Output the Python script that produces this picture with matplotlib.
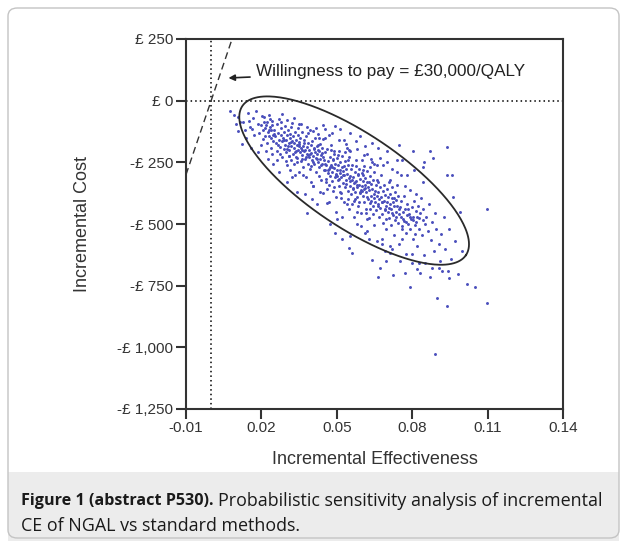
import numpy as np
import matplotlib
matplotlib.use("Agg")
import matplotlib.pyplot as plt
from matplotlib.patches import FancyBboxPatch, Rectangle

# incremental effectiveness / incremental cost (GBP)
efecto = [
    0.0075, 0.0108, 0.0115, 0.0106, 0.0128, 0.0151, 0.0179, 0.0155, 0.0164, 0.0092, 0.0138, 0.0121, 0.0168, 0.0145, 0.0099, 0.0172, 0.0133, 0.0160,
    0.0185, 0.0192, 0.0201, 0.0208, 0.0212, 0.0216, 0.0222, 0.0226, 0.0229, 0.0233, 0.0237, 0.0240, 0.0243, 0.0246, 0.0248, 0.0188, 0.0197, 0.0205,
    0.0219, 0.0231, 0.0239, 0.0211, 0.0244, 0.0227, 0.0199, 0.0236, 0.0249, 0.0214, 0.0241, 0.0224,
    0.0252, 0.0255, 0.0258, 0.0261, 0.0264, 0.0266, 0.0269, 0.0271, 0.0273, 0.0276, 0.0278, 0.0281, 0.0283, 0.0285, 0.0288, 0.0290, 0.0292, 0.0294,
    0.0297, 0.0299, 0.0301, 0.0303, 0.0305, 0.0307, 0.0309, 0.0311, 0.0313, 0.0315, 0.0317, 0.0319, 0.0321, 0.0323, 0.0325, 0.0327, 0.0329, 0.0331,
    0.0333, 0.0335, 0.0337, 0.0339, 0.0341, 0.0343, 0.0345, 0.0347, 0.0349, 0.0262, 0.0279, 0.0296, 0.0312, 0.0328, 0.0344, 0.0274, 0.0308, 0.0336, 0.0318,
    0.0351, 0.0353, 0.0355, 0.0357, 0.0359, 0.0361, 0.0363, 0.0365, 0.0367, 0.0369, 0.0371, 0.0373, 0.0375, 0.0377, 0.0379, 0.0381, 0.0383, 0.0385,
    0.0387, 0.0389, 0.0391, 0.0393, 0.0395, 0.0397, 0.0399, 0.0401, 0.0403, 0.0405, 0.0407, 0.0409, 0.0411, 0.0413, 0.0415, 0.0417, 0.0419, 0.0421,
    0.0423, 0.0425, 0.0427, 0.0429, 0.0431, 0.0433, 0.0435, 0.0437, 0.0439, 0.0441, 0.0443, 0.0445, 0.0447, 0.0449, 0.0358, 0.0372, 0.0386, 0.0402,
    0.0418, 0.0434, 0.0446, 0.0364, 0.0396, 0.0428, 0.0362, 0.0384, 0.0408, 0.0426, 0.0442,
    0.0451, 0.0453, 0.0455, 0.0457, 0.0459, 0.0461, 0.0463, 0.0465, 0.0467, 0.0469, 0.0471, 0.0473, 0.0475, 0.0477, 0.0479, 0.0481, 0.0483, 0.0485,
    0.0487, 0.0489, 0.0491, 0.0493, 0.0495, 0.0497, 0.0499, 0.0501, 0.0503, 0.0505, 0.0507, 0.0509, 0.0511, 0.0513, 0.0515, 0.0517, 0.0519, 0.0521,
    0.0523, 0.0525, 0.0527, 0.0529, 0.0531, 0.0533, 0.0535, 0.0537, 0.0539, 0.0541, 0.0543, 0.0545, 0.0547, 0.0549, 0.0454, 0.0468, 0.0482, 0.0496,
    0.0508, 0.0522, 0.0536, 0.0548, 0.0462, 0.0476, 0.0490, 0.0504, 0.0518, 0.0532, 0.0546, 0.0472, 0.0486, 0.0500, 0.0514, 0.0528,
    0.0551, 0.0553, 0.0555, 0.0557, 0.0559, 0.0561, 0.0563, 0.0565, 0.0567, 0.0569, 0.0571, 0.0573, 0.0575, 0.0577, 0.0579, 0.0581, 0.0583, 0.0585,
    0.0587, 0.0589, 0.0591, 0.0593, 0.0595, 0.0597, 0.0599, 0.0601, 0.0603, 0.0605, 0.0607, 0.0609, 0.0611, 0.0613, 0.0615, 0.0617, 0.0619, 0.0621,
    0.0623, 0.0625, 0.0627, 0.0629, 0.0631, 0.0633, 0.0635, 0.0637, 0.0639, 0.0641, 0.0643, 0.0645, 0.0647, 0.0649, 0.0554, 0.0568, 0.0582, 0.0596,
    0.0608, 0.0622, 0.0636, 0.0648, 0.0562, 0.0576, 0.0590, 0.0604, 0.0618, 0.0632, 0.0646, 0.0572, 0.0586, 0.0600, 0.0614, 0.0628,
    0.0651, 0.0653, 0.0655, 0.0657, 0.0659, 0.0661, 0.0663, 0.0665, 0.0667, 0.0669, 0.0671, 0.0673, 0.0675, 0.0677, 0.0679, 0.0681, 0.0683, 0.0685,
    0.0687, 0.0689, 0.0691, 0.0693, 0.0695, 0.0697, 0.0699, 0.0701, 0.0703, 0.0705, 0.0707, 0.0709, 0.0711, 0.0713, 0.0715, 0.0717, 0.0719, 0.0721,
    0.0723, 0.0725, 0.0727, 0.0729, 0.0731, 0.0733, 0.0735, 0.0737, 0.0739, 0.0741, 0.0743, 0.0745, 0.0747, 0.0749, 0.0658, 0.0678, 0.0698, 0.0718, 0.0738,
    0.0751, 0.0754, 0.0757, 0.0760, 0.0763, 0.0766, 0.0769, 0.0772, 0.0775, 0.0778, 0.0781, 0.0784, 0.0787, 0.0790, 0.0793, 0.0796, 0.0799, 0.0802,
    0.0805, 0.0808, 0.0811, 0.0814, 0.0817, 0.0820, 0.0823, 0.0826, 0.0829, 0.0832, 0.0835, 0.0838, 0.0841, 0.0844, 0.0847, 0.0850, 0.0756, 0.0776,
    0.0791, 0.0806, 0.0826, 0.0842, 0.0770, 0.0798, 0.0815, 0.0833, 0.0848,
    0.0871, 0.0937, 0.0855, 0.0862, 0.0868, 0.0875, 0.0880, 0.0886, 0.0890, 0.0895, 0.0900, 0.0905, 0.0910, 0.0915, 0.0920, 0.0925, 0.0930, 0.0937,
    0.0943, 0.0948, 0.0955, 0.0962, 0.0970, 0.0982, 0.0990, 0.1000, 0.1017, 0.1050, 0.1097, 0.1098, 0.0891, 0.0872, 0.0908, 0.0960, 0.0945,
    0.0803, 0.0748, 0.0883, 0.0843, 0.0937,
    # borde superior de la nube
    0.0405, 0.0453, 0.0493, 0.0513, 0.0553, 0.0592, 0.0612, 0.0640, 0.0664, 0.0700, 0.0670, 0.0575, 0.0620, 0.0685, 0.0720, 0.0760, 0.0780, 0.0470,
    0.0530, 0.0430, 0.0380, 0.0350, 0.0330, 0.0300, 0.0280, 0.0550, 0.0600, 0.0650, 0.0710, 0.0740,
    # borde inferior de la nube
    0.0405, 0.0445, 0.0420, 0.0460, 0.0473, 0.0493, 0.0553, 0.0520, 0.0612, 0.0660, 0.0680, 0.0710, 0.0549, 0.0560, 0.0640, 0.0670, 0.0664, 0.0724,
    0.0771, 0.0712, 0.0696, 0.0752, 0.0820, 0.0300, 0.0340, 0.0380, 0.0500, 0.0580, 0.0630, 0.0690, 0.0760, 0.0800, 0.0850, 0.0880, 0.0580, 0.0540,
    0.0620, 0.0350, 0.0270, 0.0320,
    # nucleo denso
    0.0302, 0.0318, 0.0334, 0.0348, 0.0362, 0.0378, 0.0392, 0.0406, 0.0421, 0.0436, 0.0452, 0.0466, 0.0481, 0.0495, 0.0510, 0.0524, 0.0538, 0.0552,
    0.0566, 0.0580, 0.0594, 0.0608, 0.0622, 0.0636, 0.0650, 0.0664, 0.0678, 0.0692, 0.0706, 0.0720, 0.0734, 0.0748, 0.0762, 0.0776, 0.0790, 0.0804,
    0.0818, 0.0311, 0.0342, 0.0371, 0.0398, 0.0424, 0.0456, 0.0488, 0.0512, 0.0545, 0.0571, 0.0603, 0.0633, 0.0662, 0.0694, 0.0726, 0.0758, 0.0783,
    0.0812, 0.0288, 0.0265, 0.0246, 0.0232, 0.0218,
]
costo = [
    -42, -68, -88, -122, -85, -81, -43, -108, -113, -58, -150, -175, -72, -52, -96, -140, -118, -190,
    -95, -130, -62, -155, -68, -110, -88, -235, -142, -75, -190, -120, -98, -256, -165, -210, -178, -118,
    -205, -60, -150, -85, -215, -128, -100, -105, -135, -145, -82, -170,
    -118, -145, -172, -96, -205, -132, -158, -75, -188, -140, -112, -228, -165, -150, -195, -128, -102, -178,
    -210, -160, -140, -262, -185, -118, -170, -200, -152, -135, -240, -182, -90, -165, -215, -145, -192, -172,
    -125, -300, -205, -158, -180, -232, -110, -198, -168, -240, -85, -245, -280, -255, -140, -215, -225, -228, -105,
    -175, -210, -150, -245, -190, -128, -222, -268, -182, -205, -160, -235, -198, -310, -142, -215, -188, -255,
    -170, -228, -200, -118, -275, -212, -180, -240, -162, -225, -345, -195, -258, -208, -150, -232, -290, -185,
    -218, -248, -135, -205, -270, -238, -175, -320, -222, -192, -255, -100, -230, -280, -95, -380, -132, -400,
    -110, -372, -155, -300, -330, -305, -238, -222, -190, -200, -212,
    -240, -282, -210, -318, -262, -195, -295, -245, -340, -275, -228, -305, -260, -178, -325, -288, -242, -365,
    -272, -215, -310, -255, -298, -390, -232, -280, -320, -262, -205, -345, -292, -250, -375, -310, -268, -225,
    -335, -285, -410, -300, -245, -352, -275, -322, -190, -298, -365, -260, -315, -440, -150, -410, -130, -450,
    -160, -470, -175, -230, -360, -200, -348, -220, -395, -210, -400, -270, -235, -305, -280, -265,
    -305, -345, -278, -380, -322, -260, -358, -310, -405, -335, -290, -370, -325, -240, -392, -350, -300, -428,
    -340, -275, -375, -318, -362, -455, -295, -345, -385, -325, -265, -410, -355, -312, -438, -372, -330, -285,
    -398, -348, -475, -362, -305, -415, -338, -385, -250, -360, -428, -322, -378, -505, -205, -470, -195, -510,
    -220, -530, -235, -290, -420, -265, -410, -280, -455, -270, -460, -330, -298, -368, -342, -328,
    -365, -410, -340, -445, -385, -320, -425, -372, -470, -398, -352, -435, -390, -300, -458, -412, -365, -495,
    -405, -340, -440, -382, -428, -520, -360, -410, -452, -390, -330, -475, -420, -378, -505, -438, -395, -350,
    -465, -412, -545, -428, -370, -482, -402, -450, -290, -425, -495, -388, -440, -580, -260, -560, -250, -600, -240,
    -430, -472, -405, -510, -450, -385, -488, -440, -535, -465, -418, -500, -458, -362, -520, -478, -432, -560,
    -470, -405, -505, -448, -490, -590, -425, -475, -520, -455, -395, -545, -485, -440, -625, -500, -300, -620,
    -754, -280, -660, -330, -345, -660, -380, -700, -250,
    -205, -186, -470, -530, -420, -565, -490, -610, -455, -520, -802, -580, -650, -540, -690, -470, -600, -831,
    -689, -520, -640, -390, -570, -701, -450, -610, -742, -757, -439, -822, -1029, -715, -680, -300, -720,
    -203, -180, -231, -267, -300,
    # borde superior de la nube
    -122, -113, -101, -113, -130, -142, -182, -170, -190, -203, -231, -165, -215, -260, -275, -240, -300, -140,
    -160, -150, -105, -95, -70, -80, -55, -200, -240, -255, -320, -340,
    # borde inferior de la nube
    -344, -373, -417, -413, -498, -535, -547, -559, -535, -567, -580, -588, -596, -616, -644, -677, -713, -705,
    -697, -616, -652, -648, -681, -330, -370, -455, -480, -500, -560, -610, -560, -620, -660, -680, -450, -420,
    -480, -290, -290, -310,
    # nucleo denso
    -195, -168, -210, -185, -200, -228, -215, -250, -235, -262, -255, -280, -270, -300, -318, -302, -338, -325,
    -355, -340, -372, -360, -390, -405, -395, -420, -410, -445, -435, -455, -470, -460, -478, -492, -470, -485,
    -470, -225, -250, -170, -265, -180, -330, -205, -370, -240, -400, -300, -440, -330, -480, -395, -520, -440,
    -540, -160, -180, -140, -120, -100,
]

# 95% region drawn round the cloud: centre and half axes (data units)
elipse_centro = (0.0569, -324)
elipse_eje_mayor = (0.0445, -302)
elipse_eje_menor = (-0.0104, -159)

disposicion_a_pagar = 30000  # GBP per QALY

x_ticks = [-0.01, 0.02, 0.05, 0.08, 0.11, 0.14]
x_etiquetas = ["-0.01", "0.02", "0.05", "0.08", "0.11", "0.14"]
y_ticks = [250, 0, -250, -500, -750, -1000, -1250]
y_etiquetas = ["£ 250", "£ 0", "-£ 250", "-£ 500", "-£ 750", "-£ 1,000", "-£ 1,250"]

gris = "#333333"
plt.rcParams["font.family"] = ["Liberation Sans", "DejaVu Sans"]

fig = plt.figure(figsize=(6.26, 5.41), dpi=100)
W, H = 626, 541

# marco exterior y caja del pie de figura
fig.patches.append(Rectangle((8 / W, 0), 611 / W, 69 / H, transform=fig.transFigure,
                             facecolor="#ececec", edgecolor="none", zorder=0))
fig.patches.append(FancyBboxPatch((8 / W, 3 / H), 611 / W, 530 / H, transform=fig.transFigure,
                                  boxstyle="round,pad=0,rounding_size=0.015",
                                  facecolor="none", edgecolor="#c4c4c4", lw=1.0, zorder=1))

ax = fig.add_axes([186 / W, 1 - 409 / H, 377 / W, 370 / H])
ax.set_xlim(-0.01, 0.14)
ax.set_ylim(-1250, 250)

ax.scatter(efecto, costo, s=4.5, marker="o", color="#4a4fbc", linewidths=0, zorder=3)

t = np.linspace(0, 2 * np.pi, 300)
ex = elipse_centro[0] + elipse_eje_mayor[0] * np.cos(t) + elipse_eje_menor[0] * np.sin(t)
ey = elipse_centro[1] + elipse_eje_mayor[1] * np.cos(t) + elipse_eje_menor[1] * np.sin(t)
ax.plot(ex, ey, color="#2a2a2a", lw=1.3, zorder=4)

ax.axhline(0, color="black", ls=(0, (1, 2)), lw=1.1, zorder=2)
ax.axvline(0, color="black", ls=(0, (1, 2)), lw=1.1, zorder=2)
wx = np.array([-0.01, 250 / disposicion_a_pagar])
ax.plot(wx, wx * disposicion_a_pagar, color=gris, ls=(0, (5, 3)), lw=1.0, zorder=2, clip_on=False)

ax.annotate("Willingness to pay = £30,000/QALY", xy=(0.0069, 92), xytext=(0.0177, 120),
            fontsize=12.3, color="#222222", va="center", ha="left",
            arrowprops=dict(arrowstyle="-|>", color="#222222", lw=1.2, mutation_scale=9, shrinkA=2, shrinkB=0))

ax.set_xticks(x_ticks)
ax.set_xticklabels(x_etiquetas)
ax.set_yticks(y_ticks)
ax.set_yticklabels(y_etiquetas)
ax.tick_params(direction="out", length=7, width=1.5, color=gris, labelsize=11, labelcolor=gris, pad=2)
for s in ax.spines.values():
    s.set_color(gris)
    s.set_linewidth(1.5)

ax.set_xlabel("Incremental Effectiveness", fontsize=13, color=gris, labelpad=11)
ax.set_ylabel("Incremental Cost", fontsize=13, color=gris, labelpad=19)

# pie de figura: parte en negrita y resto normal
fuente_pie = ["Open Sans", "DejaVu Sans"]
t1 = fig.text(21 / W, 1 - 501 / H, "Figure 1 (abstract P530).", family=fuente_pie,
              weight="bold", fontsize=11.6, va="center", color="#1a1a1a")
fig.canvas.draw()
bb = t1.get_window_extent()
fig.text((bb.x1 + 4) / W, 1 - 501 / H, "Probabilistic sensitivity analysis of incremental",
         family=fuente_pie, fontsize=12.9, va="center", color="#1a1a1a")
fig.text(21 / W, 1 - 526 / H, "CE of NGAL vs standard methods.", family=fuente_pie,
         fontsize=12.9, va="center", color="#1a1a1a")

fig.savefig("out.png", dpi=100)
